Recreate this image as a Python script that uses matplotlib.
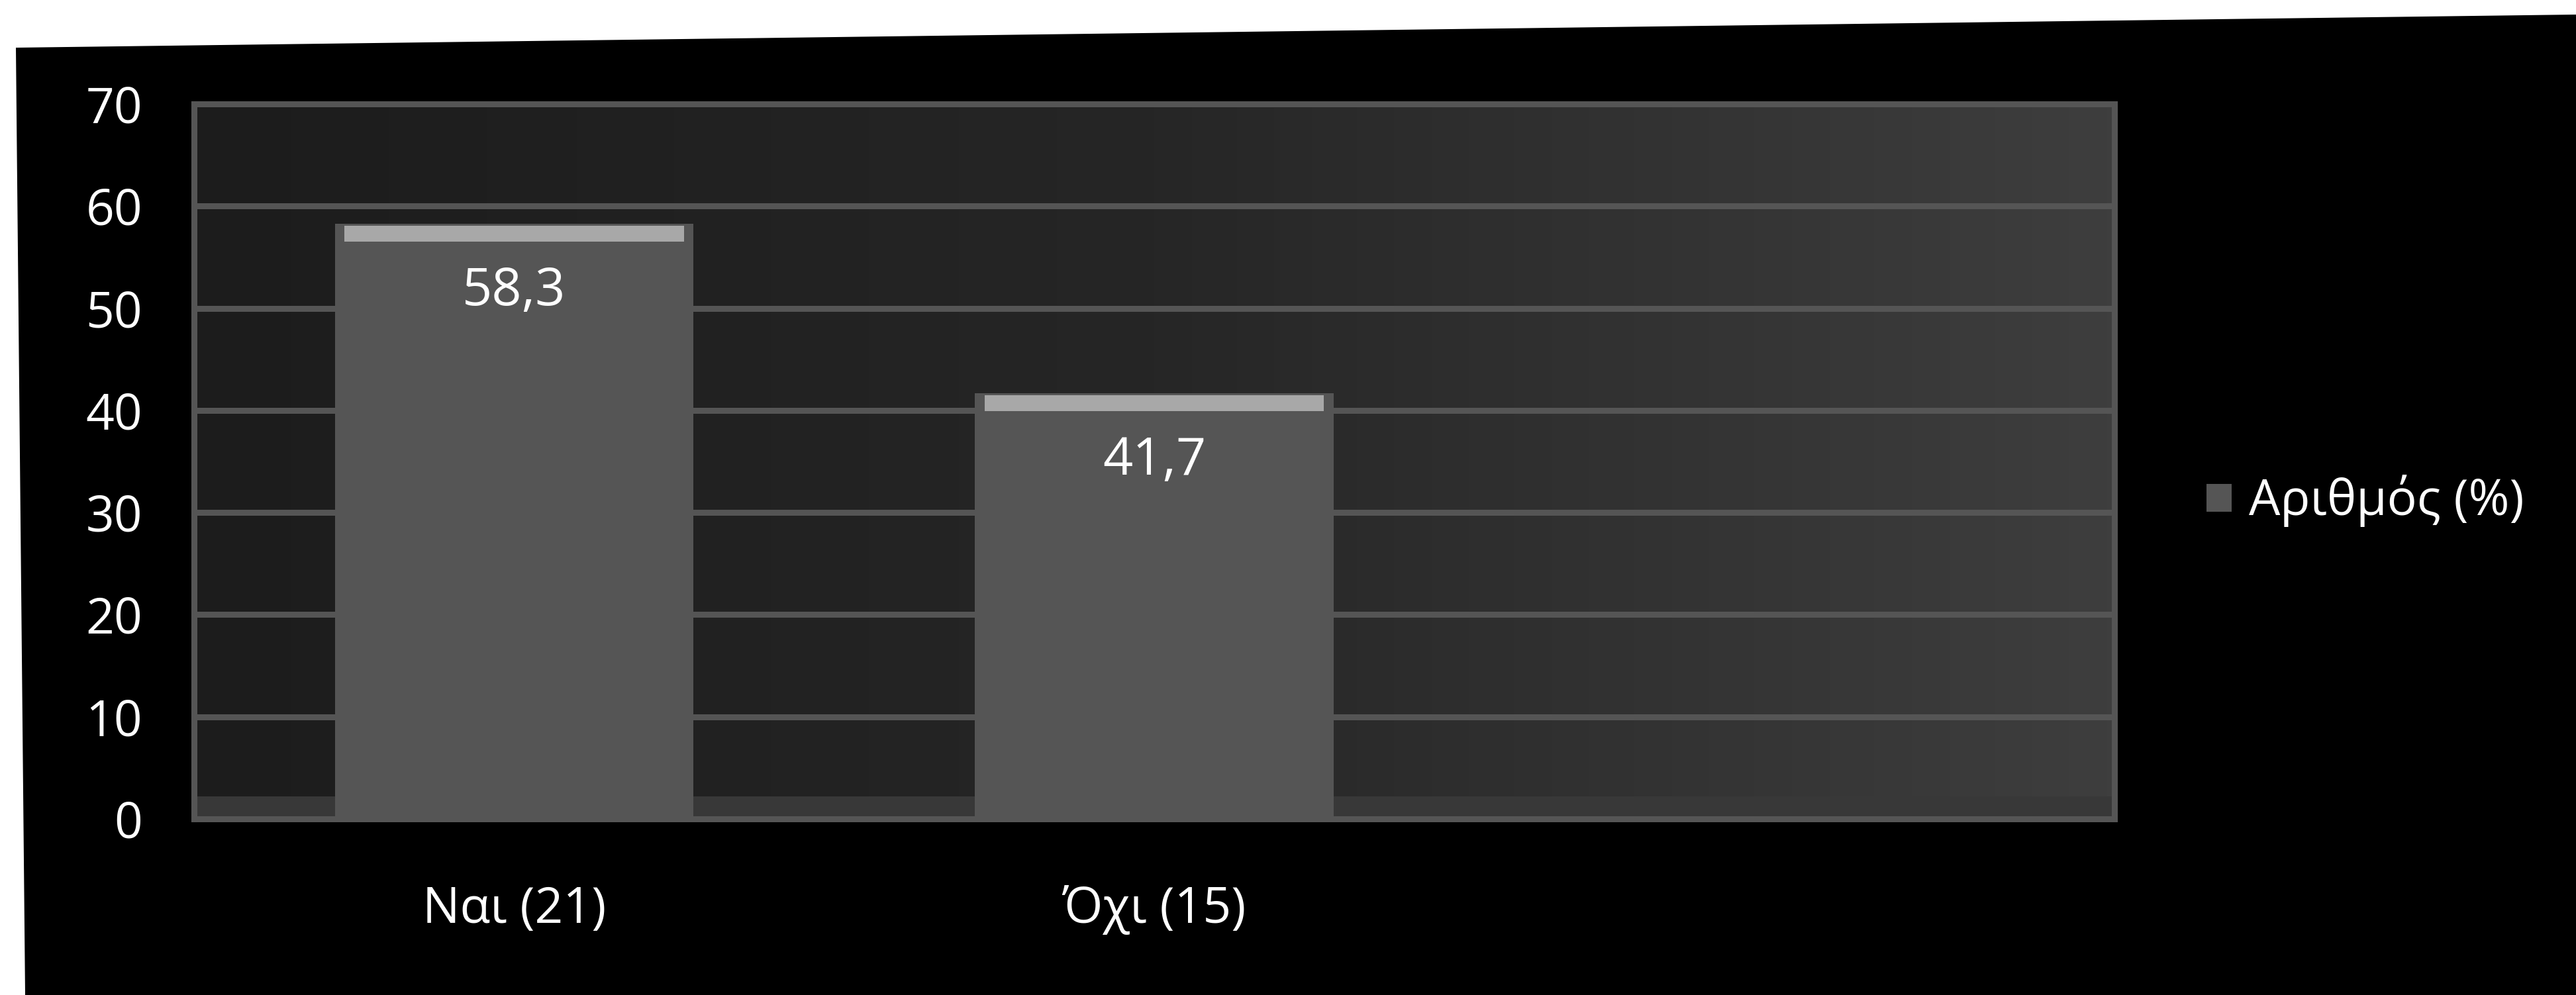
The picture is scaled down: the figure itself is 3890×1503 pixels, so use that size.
import numpy as np
import matplotlib.pyplot as plt
from matplotlib.colors import LinearSegmentedColormap
from matplotlib.patches import Polygon, Patch

plt.rcParams['font.family'] = ['Open Sans', 'DejaVu Sans']

categories = ['Ναι (21)', 'Όχι (15)', '']
values = [58.3, 41.7]
series_name = 'Αριθμός (%)'
y_ticks = [0, 10, 20, 30, 40, 50, 60, 70]

W, H = 3890, 1503
BAR = '#555555'
CAP = '#a8a8a8'

fig = plt.figure(figsize=(W / 100, H / 100), dpi=100, facecolor='black')
ax = fig.add_axes([293 / W, 1 - 1237 / H, 2900 / W, 1080 / H])
ax.set_facecolor('black')

# plot area: speckled grey fill, lighter toward the right
shade = LinearSegmentedColormap.from_list('shade', ['#1c1c1c', '#262626', '#3e3e3e'])
ax.imshow(np.linspace(0, 1, 256)[None, :], cmap=shade, aspect='auto',
          extent=(0, 1, 0, 1), transform=ax.transAxes, zorder=-1)
ax.axhspan(0, 2.2, color='#383838', zorder=0.2, lw=0)

xs = np.arange(len(categories))
bx = xs[:len(values)]
ax.bar(bx, values, width=0.56, color=BAR, zorder=3)

# light band on the bar tops
cap_h = 1.75
ax.bar(bx, [cap_h - 0.2] * len(values), bottom=[v - cap_h for v in values],
       width=0.53, color=CAP, zorder=4)

for x, v in zip(bx, values):
    ax.annotate(f'{v:.1f}'.replace('.', ','), (x, v), xytext=(0, -74),
                textcoords='offset points', ha='center', va='center',
                color='white', fontsize=57, zorder=5)

ax.set_xlim(-0.5, len(categories) - 0.5)
ax.set_ylim(0, 70)
ax.set_yticks(y_ticks)
ax.set_xticks(xs, categories)
ax.tick_params(axis='y', length=0, colors='white', labelsize=54, pad=56)
ax.tick_params(axis='x', length=0, colors='white', labelsize=54, pad=72)

ax.yaxis.grid(True, color=BAR, linewidth=6.5)
ax.set_axisbelow(True)
for s in ax.spines.values():
    s.set_color(BAR)
    s.set_linewidth(6.5)

fig.legend(handles=[Patch(facecolor=BAR, label=series_name)],
           loc='center left', bbox_to_anchor=(3332 / W, 1 - 757 / H),
           frameon=False, fontsize=54, labelcolor='white',
           handlelength=0.5, handleheight=0.5, handletextpad=0.35,
           borderpad=0, borderaxespad=0)

# paper edge along the top and left
edge = [(0, 1), (1, 1), (1, 1 - 22 / H), (24 / W, 1 - 72 / H),
        (38 / W, 0), (0, 0)]
fig.add_artist(Polygon(edge, closed=True, transform=fig.transFigure,
                       facecolor='white', edgecolor='none', zorder=10))

fig.savefig('out.png', dpi=100, facecolor='black')
